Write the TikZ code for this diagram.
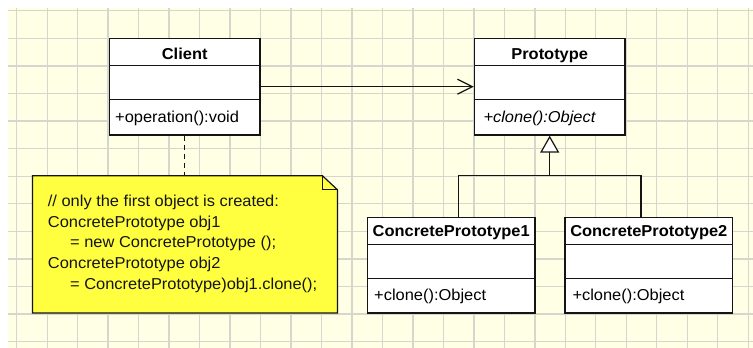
\documentclass[tikz,border=0pt]{standalone}
\usepackage{fontspec}
\setmainfont{Liberation Sans}[FakeStretch=1.04]
\usetikzlibrary{arrows.meta,calc}
\definecolor{paper}{RGB}{255,255,230}
\definecolor{gridline}{RGB}{214,214,204}
\definecolor{notefill}{RGB}{255,255,64}
\definecolor{ink}{RGB}{20,20,20}
\begin{document}
\begin{tikzpicture}[x=1pt,y=-1pt,
  classbox/.style={draw=ink, fill=white, line width=1.2pt, inner sep=0pt},
  divider/.style={draw=ink, line width=1.2pt},
  classname/.style={font=\fontsize{15.8}{18}\selectfont\bfseries, inner sep=0pt, anchor=base},
  member/.style={font=\fontsize{15.8}{18}\selectfont, inner sep=0pt, anchor=base west},
  notetext/.style={font=\fontsize{15.8}{18}\selectfont, inner sep=0pt, anchor=base west, text=ink},
  assoc/.style={draw=ink, line width=1.2pt, -{Straight Barb[length=15pt,width=15pt,line width=1.2pt]}},
  general/.style={draw=ink, line width=1.2pt, -{Triangle[open,length=17pt,width=19pt,fill=white,line width=1.2pt]}},
  branch/.style={draw=ink, line width=1.2pt},
  anchorline/.style={draw=ink, line width=1.2pt, dash pattern=on 5pt off 4pt},
  notebox/.style={draw=ink, fill=notefill, line width=1.2pt}]

% paper with grid
\useasboundingbox (0,0) rectangle (753,348);
\fill[white] (0,0) rectangle (753,348);
\fill[paper] (8,8) rectangle (753,348);
\foreach \i in {0,...,24}
  \draw[gridline, line width=1.3pt] ({16.7+30.48*\i},8) -- ({16.7+30.48*\i},348);
\foreach \j in {0,...,12}
  \draw[gridline, line width=1.3pt] (8,{10.7+27.58*\j}) -- (753,{10.7+27.58*\j});

% classes
\node[classbox, minimum width=150.7pt, minimum height=96.7pt] (client) at (184.7,86.7) {};
\node[classbox, minimum width=150.7pt, minimum height=96.7pt] (proto) at (549.7,86.7) {};
\node[classbox, minimum width=167.7pt, minimum height=95.7pt] (cpa) at (451.2,265.2) {};
\node[classbox, minimum width=167.7pt, minimum height=95.7pt] (cpb) at (648.8,265.2) {};

\foreach \c/\a/\b in {client/27.7/61.7, proto/27.7/61.7, cpa/27.4/61.4, cpb/27.4/61.4} {
  \draw[divider] ($(\c.north west)+(0,\a)$) -- ($(\c.north east)+(0,\a)$);
  \draw[divider] ($(\c.north west)+(0,\b)$) -- ($(\c.north east)+(0,\b)$);
}

\node[classname] (clientname) at (184.7,59) {Client};
\node[member] (clientop) at (115,122.7) {+operation():void};
\node[classname] (protoname) at (549.7,59) {Prototype};
\node[member] (protoop) at (483.3,122.7) {\itshape +clone():Object};
\node[classname] (cpaname) at (451.2,236.7) {ConcretePrototype1};
\node[member] (cpaop) at (374,300.7) {+clone():Object};
\node[classname] (cpbname) at (648.8,236.7) {ConcretePrototype2};
\node[member] (cpbop) at (572.3,300.7) {+clone():Object};

% association
\draw[assoc] (client.east) -- (proto.west);

% generalization
\coordinate (fork) at (549.7,175.7);
\draw[general] (fork) -- (proto.south);
\draw[branch] ($(cpa.north west)+(91.7,0)$) |- (fork) -| ($(cpb.north west)+(76.7,0)$);

% note
\node[inner sep=0pt, minimum width=304.6pt, minimum height=136.7pt] (note) at (185,244.35) {};
\draw[notebox] (note.north west) -- ($(note.north east)+(-15,0)$) -- ($(note.north east)+(0,14)$)
  -- (note.south east) -- (note.south west) -- cycle;
\draw[divider] ($(note.north east)+(-15,0)$) -- ($(note.north east)+(-15,14)$) -- ($(note.north east)+(0,14)$);
\draw[anchorline] (client.south) -- (client.south |- note.north);

\node[notetext] (l1) at (47.7,206) {// only the first object is created:};
\node[notetext] (l2) at (47.7,227) {ConcretePrototype obj1};
\node[notetext] (l3) at (70,247.5) {= new ConcretePrototype ();};
\node[notetext] (l4) at (47.7,268) {ConcretePrototype obj2};
\node[notetext] (l5) at (70,289) {= ConcretePrototype)obj1.clone();};
\end{tikzpicture}
\end{document}
